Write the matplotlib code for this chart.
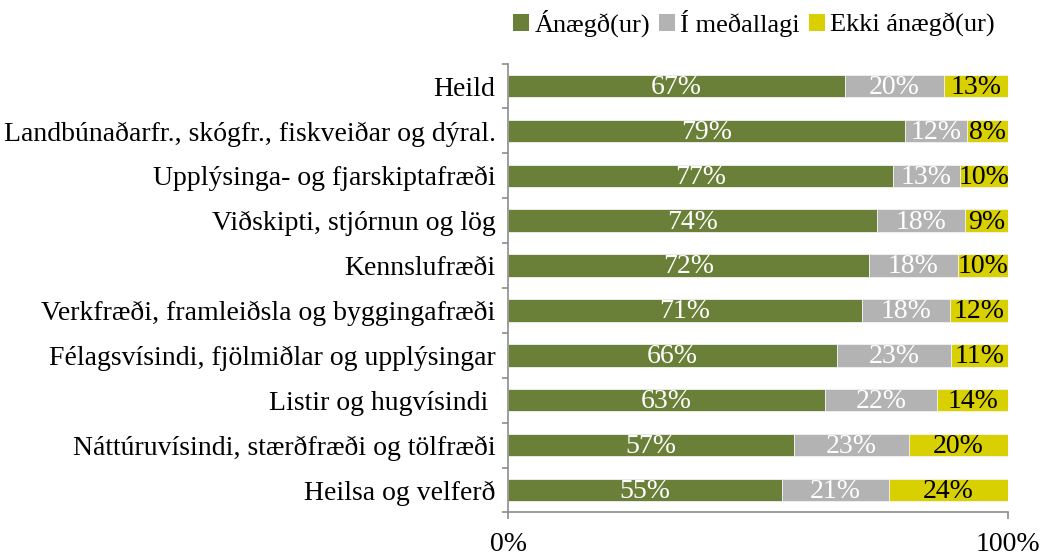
import matplotlib
matplotlib.use("Agg")
import matplotlib.pyplot as plt
from matplotlib.patches import Patch

categories = ["Heild",
              "Landbúnaðarfr., skógfr., fiskveiðar og dýral.",
              "Upplýsinga- og fjarskiptafræði",
              "Viðskipti, stjórnun og lög",
              "Kennslufræði",
              "Verkfræði, framleiðsla og byggingafræði",
              "Félagsvísindi, fjölmiðlar og upplýsingar",
              "Listir og hugvísindi ",
              "Náttúruvísindi, stærðfræði og tölfræði",
              "Heilsa og velferð"]
anaegd = [67.4, 79.4, 77.0, 73.8, 72.1, 70.8, 65.8, 63.4, 57.2, 54.8]
medallagi = [19.8, 12.3, 13.3, 17.6, 17.9, 17.6, 22.8, 22.4, 23.0, 21.4]
ekki = [12.8, 8.3, 9.7, 8.6, 10.0, 11.6, 11.4, 14.2, 19.8, 23.8]
series_names = ["Ánægð(ur)", "Í meðallagi", "Ekki ánægð(ur)"]
colors = ["#6A8038", "#B3B3B3", "#D8D000"]
text_colors = ["white", "white", "black"]

plt.rcParams['font.family'] = ['Liberation Serif', 'DejaVu Serif']
FS = 20

fig = plt.figure(figsize=(10.4, 5.55), dpi=100)
ax = fig.add_axes([0.4885, 0.0766, 0.4808, 0.8088])

n = len(categories)
ypos = list(range(n))
left = [0] * n
for vals, col, tc in zip([anaegd, medallagi, ekki], colors, text_colors):
    ax.barh(ypos, vals, left=left, height=0.5, color=col,
            edgecolor="#F2F2F2", linewidth=0.6)
    for y, v, l in zip(ypos, vals, left):
        ax.text(l + v / 2, y + 0.03, f"{v:.0f}%", ha="center", va="center",
                color=tc, fontsize=FS)
    left = [a + b for a, b in zip(left, vals)]

ax.set_xlim(0, 100)
ax.set_ylim(n - 0.5, -0.5)
ax.set_yticks(ypos)
ax.set_yticklabels(categories, fontsize=FS)
ax.set_yticks([i - 0.5 for i in range(n + 1)], minor=True)
ax.set_xticks([0, 100])
ax.set_xticklabels(["0%", "100%"], fontsize=FS)
ax.tick_params(axis='y', which='major', length=0, pad=9)
ax.tick_params(axis='y', which='minor', length=4, color="#8C8C8C", width=1.2)
ax.tick_params(axis='x', length=5, color="#8C8C8C", width=1.2, pad=9)
for s in ["top", "right"]:
    ax.spines[s].set_visible(False)
for s in ["left", "bottom"]:
    ax.spines[s].set_color("#8C8C8C")
    ax.spines[s].set_linewidth(1.2)

handles = [Patch(facecolor=c, edgecolor="none") for c in colors]
fig.legend(handles, series_names, loc="center", bbox_to_anchor=(0.725, 0.958),
           ncol=3, frameon=False, fontsize=19, handlelength=0.6, handleheight=0.6,
           handletextpad=0.2, columnspacing=0.35, borderpad=0, borderaxespad=0)

fig.savefig("out.png", dpi=100)
